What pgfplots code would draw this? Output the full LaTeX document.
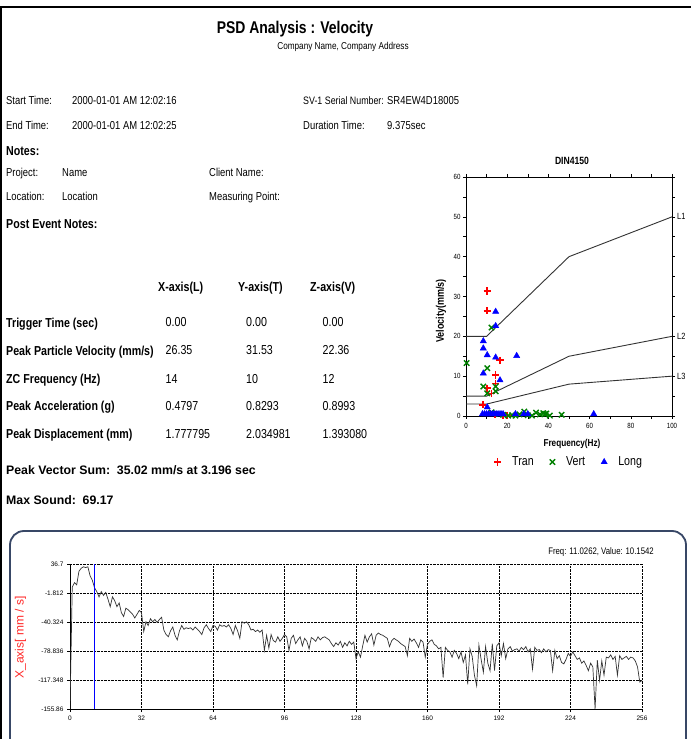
\documentclass[border=0pt]{standalone}
\usepackage{fontspec}
\setmainfont{Liberation Sans}[FakeStretch=0.82]
\newfontfamily\wide{Liberation Sans}
\usepackage{pgfplots}
\pgfplotsset{compat=1.18}
\definecolor{curve}{rgb}{0.2,0.2,0.2}
\definecolor{frame}{rgb}{0.22,0.28,0.40}
\definecolor{vgreen}{rgb}{0,0.5,0}
\definecolor{ylab}{rgb}{1,0.15,0.15}
\definecolor{lline}{rgb}{0.2,0.2,0.2}
\newcommand{\fs}[1]{\fontsize{#1}{#1}\selectfont}

\pgfplotstableread{
x y
0 -155.86
1 6
2 12
3 9
4 27
5 31
6 33
7 32
8 33
9 21
10 15
11 5
12 0
13 -7
14 0
15 -5
16 -1
17 -10
18 -20
19 -7
20 -12
21 -20
22 -15
23 -28
24 -33
25 -22
26 -24
27 -27
28 -30
29 -35
30 -30
31 -25
32 -28
33 -53
34 -40
35 -45
36 -36
37 -40
38 -37
39 -41
40 -37
41 -34
42 -51
43 -57
44 -60
45 -52
46 -47
47 -58
48 -64
49 -52
50 -45
51 -50
52 -48
53 -49
54 -48
55 -51
56 -47
57 -50
58 -53
59 -57
60 -48
61 -44
62 -49
63 -53
64 -45
65 -46
66 -51
67 -44
68 -46
69 -45
70 -47
71 -44
72 -49
73 -57
74 -45
75 -52
76 -62
77 -40
78 -42
79 -40
80 -44
81 -51
82 -50
83 -53
84 -51
85 -54
86 -51
87 -78
88 -58
89 -75
90 -57
91 -65
92 -67
93 -60
94 -66
95 -62
96 -57
97 -60
98 -78
99 -62
100 -58
101 -69
102 -64
103 -60
104 -72
105 -62
106 -66
107 -76
108 -61
109 -63
110 -66
111 -60
112 -64
113 -61
114 -60
115 -62
116 -64
117 -69
118 -73
119 -68
120 -71
121 -66
122 -74
123 -68
124 -72
125 -66
126 -70
127 -67
128 -89
129 -80
130 -87
131 -72
132 -58
133 -67
134 -60
135 -56
136 -71
137 -58
138 -55
139 -57
140 -58
141 -60
142 -62
143 -73
144 -65
145 -62
146 -64
147 -66
148 -69
149 -71
150 -73
151 -85
152 -62
153 -66
154 -63
155 -68
156 -74
157 -64
158 -67
159 -87
160 -70
161 -66
162 -64
163 -70
164 -72
165 -76
166 -74
167 -114
168 -74
169 -78
170 -80
171 -87
172 -78
173 -82
174 -89
175 -80
176 -94
177 -84
178 -123
179 -76
180 -86
181 -111
182 -125
183 -71
184 -90
185 -107
186 -73
187 -95
188 -105
189 -69
190 -105
191 -72
192 -68
193 -85
194 -69
195 -89
196 -76
197 -73
198 -79
199 -77
200 -76
201 -79
202 -74
203 -77
204 -73
205 -80
206 -76
207 -103
208 -74
209 -78
210 -77
211 -81
212 -76
213 -80
214 -77
215 -78
216 -105
217 -78
218 -89
219 -85
220 -94
221 -96
222 -90
223 -82
224 -86
225 -80
226 -85
227 -90
228 -88
229 -95
230 -92
231 -98
232 -105
233 -95
234 -100
235 -155.86
236 -91
237 -118
238 -92
239 -111
240 -87
241 -88
242 -84
243 -90
244 -86
245 -111
246 -85
247 -90
248 -88
249 -86
250 -90
251 -87
252 -88
253 -92
254 -100
255 -120
256 -118
}\psddata

\begin{document}
\begin{tikzpicture}
\path[use as bounding box, fill=white] (0,0) rectangle (691pt,739pt);
\begin{scope}[x=1pt,y=-1pt,yshift=739pt,every node/.style={inner sep=0pt}]
  \draw[black, line width=1.2pt] (0,7) -- (691,7);
  \draw[black, line width=1.2pt] (1,7) -- (1,745);
  \draw[frame, line width=1.8pt, rounded corners=14pt] (10,770) -- (10,531) -- (686,531) -- (686,770);
  % header
  \node[anchor=base, font=\bfseries\fs{17}] at (295,34) {PSD Analysis : Velocity};
  \node[anchor=base, font=\fs{10}] at (343,49.6) {Company Name, Company Address};
  \begin{scope}[every node/.append style={anchor=base west, font=\fs{11.5}}]
    \node at (6,105) {Start Time:};
    \node at (72,105) {2000-01-01 AM 12:02:16};
    \node[font=\fs{10.8}] at (303,105) {SV-1 Serial Number:};
    \node at (387,105) {SR4EW4D18005};
    \node at (6,130) {End Time:};
    \node at (72,130) {2000-01-01 AM 12:02:25};
    \node at (303,130) {Duration Time:};
    \node at (387,130) {9.375sec};
    \node at (6,177) {Project:};
    \node at (62,177) {Name};
    \node at (209,177) {Client Name:};
    \node at (6,201) {Location:};
    \node at (62,201) {Location};
    \node at (209,201) {Measuring Point:};
  \end{scope}
  \begin{scope}[every node/.append style={anchor=base west, font=\bfseries\fs{13}}]
    \node at (6,155.7) {Notes:};
    \node at (6,228.7) {Post Event Notes:};
    \node at (158,291.4) {X-axis(L)};
    \node at (238,291.4) {Y-axis(T)};
    \node at (310,291.4) {Z-axis(V)};
    \node at (6,328) {Trigger Time (sec)};
    \node at (6,355.7) {Peak Particle Velocity (mm/s)};
    \node at (6,383.7) {ZC Frequency (Hz)};
    \node at (6,410.7) {Peak Acceleration (g)};
    \node at (6,439) {Peak Displacement (mm)};
  \end{scope}
  \begin{scope}[every node/.append style={anchor=base west, font=\fs{13}}]
    \node at (165.5,327) {0.00};
    \node at (246,327) {0.00};
    \node at (322.5,327) {0.00};
    \node at (165.5,355) {26.35};
    \node at (246,355) {31.53};
    \node at (322.5,355) {22.36};
    \node at (165.5,383.5) {14};
    \node at (246,383.5) {10};
    \node at (322.5,383.5) {12};
    \node at (165.5,410.5) {0.4797};
    \node at (246,410.5) {0.8293};
    \node at (322.5,410.5) {0.8993};
    \node at (165.5,439) {1.777795};
    \node at (246,439) {2.034981};
    \node at (322.5,439) {1.393080};
  \end{scope}
  \node[anchor=base west, font=\wide\bfseries\fs{12.3}] at (6,474.4) {Peak Vector Sum:\ \ 35.02 mm/s at 3.196 sec};
  \node[anchor=base west, font=\wide\bfseries\fs{12.3}] at (6,504.4) {Max Sound:\ \ 69.17};
  % DIN chart texts
  \node[font=\bfseries\fs{10.5}] at (572,161) {DIN4150};
  \node[font=\bfseries\fs{10}] at (572,444) {Frequency(Hz)};
  \node[font=\bfseries\fs{11}, rotate=90] at (441,311) {Velocity(mm/s)};
  % bottom chart texts
  \node[anchor=east, font=\fs{9.5}] at (654,552) {Freq: 11.0262,\ Value: 10.1542};
  \node[font=\wide\fs{12}, text=ylab, rotate=90] at (20.5,637.5) {X\_axis[ mm / s]};
\end{scope}

\begin{axis}[
  at={(466pt,323pt)}, anchor=south west, scale only axis,
  width=206pt, height=239pt,
  xmin=0, xmax=100, ymin=0, ymax=60, clip=false,
  xtick={0,20,...,100}, ytick={0,10,...,60},
  minor x tick num=1, minor y tick num=1,
  tick align=outside, major tick length=3pt, minor tick length=3pt,
  tick style={black, line width=0.5pt},
  axis line style={black, line width=0.8pt},
  /pgf/number format/assume math mode=true,
  ticklabel style={font=\fs{7.5}},
  xticklabel style={yshift=-1pt},
  yticklabel style={xshift=1pt},
  legend columns=3,
  legend image code/.code={\draw[#1] plot coordinates {(0pt,0pt)};},
  legend style={draw=none, fill=none, font=\fs{13}, at={(0.5,0)}, anchor=center, yshift=-46pt,
    /tikz/every odd column/.append style={column sep=9pt},
    /tikz/every even column/.append style={column sep=14pt}},
]
\addplot[only marks, mark=+, red, mark size=3.6pt, line width=1.5pt] coordinates {
(10.3,31.4) (10.3,26.4) (16.5,14) (14.4,10.3) (14.4,8.2) (10.3,7) (12.4,5.7) (8.2,2.8) (20,0.1) (14,0.3) (18,0.2)};
\addlegendentry{Tran}
\addplot[only marks, mark=x, vgreen, mark size=3.8pt, line width=1.4pt] coordinates {
(0.3,13.3) (10.3,12) (8.4,7.4) (14.4,7.4) (10.3,5.7) (14.4,6.2) (12.4,22.2) (12.4,0.9) (16,0.5) (18,0.3) (20.5,0.1) (22.4,0.2) (24,0.1) (26,0.4) (28.3,1.1) (30,0.2) (32,0.1) (34,0.85) (35.9,0.4) (37.5,0.7) (38.3,0.5) (39,0.6) (40.7,0.1) (46.4,0.3)};
\addlegendentry{Vert}
\addplot[only marks, mark=triangle*, blue, mark size=3.6pt] coordinates {
(14.4,26.2) (14.4,22.6) (8.4,18.8) (8.4,17) (10.3,15.3) (14.4,14.7) (24.6,15.1) (8.4,10.7) (16.5,9) (10.3,2.2)
(8,0.5) (9,0.5) (10,0.5) (11,0.5) (12,0.5) (13,0.5) (14,0.5) (15,0.5) (16,0.5) (17,0.5) (18,0.5) (24,0.5) (28,0.5) (30,0.5) (62,0.5)};
\addlegendentry{Long}
\addplot[lline, line width=0.9pt, forget plot] coordinates {(0,20) (10,20) (50,40) (100,50)};
\addplot[lline, line width=0.9pt, forget plot] coordinates {(0,5) (10,5) (50,15) (100,20)};
\addplot[lline, line width=0.9pt, forget plot] coordinates {(0,3) (10,3) (50,8) (100,10)};
\node[anchor=west, font=\fs{9}, inner sep=0pt, xshift=5pt] at (axis cs:100,50) {L1};
\node[anchor=west, font=\fs{9}, inner sep=0pt, xshift=5pt] at (axis cs:100,20) {L2};
\node[anchor=west, font=\fs{9}, inner sep=0pt, xshift=5pt] at (axis cs:100,10) {L3};
\end{axis}

\begin{axis}[
  at={(70pt,30pt)}, anchor=south west, scale only axis,
  width=572pt, height=145pt,
  xmin=0, xmax=256, ymin=-155.86, ymax=36.7,
  xtick={0,32,...,256},
  ytick={-155.86,-117.348,-78.836,-40.324,-1.812,36.7},
  yticklabels={-155.86,-117.348,-78.836,-40.324,-1.812,36.7},
  grid=major, grid style={black, densely dotted, line width=0.6pt},
  axis x line*=bottom, axis y line*=left,
  axis line style={-, black, line width=0.9pt},
  tick align=outside, major tick length=3pt, tick style={black, line width=0.6pt},
  /pgf/number format/assume math mode=true,
  ticklabel style={font=\wide\fs{6.5}},
]
\addplot[curve, line width=0.7pt] table[x=x, y=y] {\psddata};
\addplot[blue, line width=0.8pt] coordinates {(11.0262,-155.86) (11.0262,36.7)};
\end{axis}
\end{tikzpicture}
\end{document}
